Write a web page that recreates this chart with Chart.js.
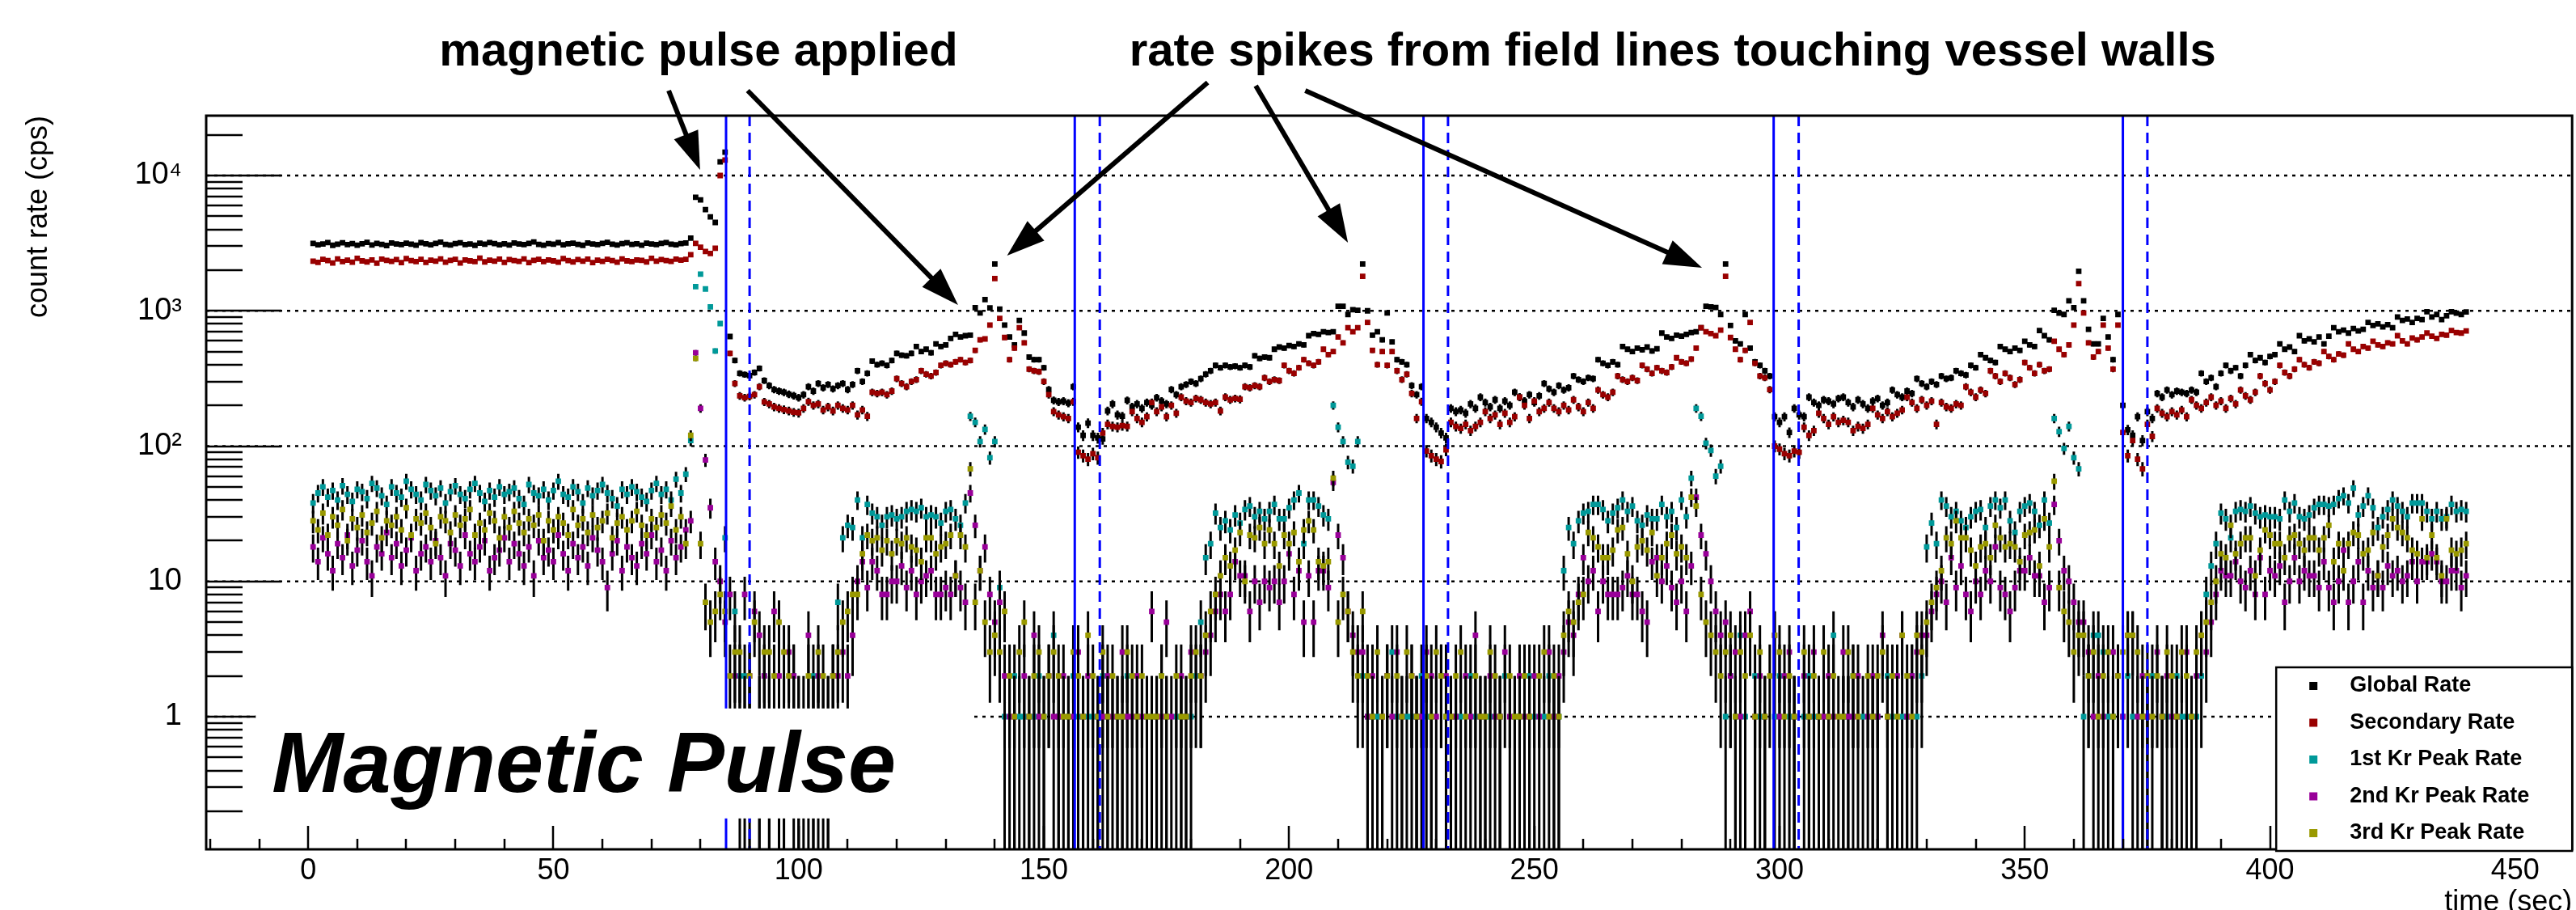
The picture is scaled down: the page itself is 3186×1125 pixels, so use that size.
<!DOCTYPE html>
<html>
<head>
<meta charset="utf-8">
<script src="https://cdn.jsdelivr.net/npm/chart.js@4/dist/chart.umd.min.js"></script>
<style>
  html, body { margin: 0; padding: 0; background: #fff; }
  canvas { display: block; }
</style>
</head>
<body>
<canvas id="rateChart" width="3186" height="1125"></canvas>
<script>
// one bin per second, first bin at t = 1 s
const firstSecond = 1;

const globalRate = [
  3150, 3080, 3120, 3200, 3050, 3110, 3180, 3090, 3140, 3060,
  3130, 3210, 3070, 3150, 3100, 3040, 3170, 3120, 3090, 3160,
  3110, 3060, 3190, 3130, 3080, 3150, 3220, 3100, 3070, 3140,
  3180, 3090, 3120, 3050, 3160, 3110, 3200, 3140, 3080, 3130,
  3070, 3170, 3120, 3090, 3150, 3230, 3100, 3060, 3140, 3110,
  3190, 3080, 3130, 3160, 3100, 3050, 3170, 3120, 3090, 3150,
  3210, 3110, 3070, 3140, 3180, 3100, 3130, 3060, 3160, 3120,
  3090, 3150, 3200, 3110, 3080, 3140, 3170, 3450, 6900, 6600,
  5600, 4950, 4500, 12600, 14900, 646, 430, 345, 338, 332,
  350, 375, 305, 280, 262, 255, 250, 242, 236, 228,
  240, 275, 255, 290, 270, 285, 265, 280, 290, 262,
  285, 360, 300, 345, 425, 400, 410, 395, 430, 485,
  470, 465, 485, 545, 500, 520, 490, 570, 545, 560,
  625, 670, 640, 655, 660, 1055, 965, 1210, 1050, 2220,
  1030, 785, 640, 560, 850, 685, 455, 435, 435, 380,
  262, 218, 212, 215, 208, 275, 138, 120, 148, 120,
  115, 113, 182, 205, 170, 166, 218, 195, 205, 190,
  210, 200, 228, 215, 205, 262, 240, 275, 285, 300,
  290, 315, 340, 360, 395, 380, 395, 385, 390, 380,
  395, 385, 465, 445, 455, 450, 520, 540, 530, 555,
  545, 570, 560, 655, 680, 670, 700, 690, 700, 1080,
  1080, 940, 1020, 1010, 2220, 1000, 660, 700, 610, 965,
  590, 435, 420, 400, 280, 240, 275, 160, 150, 138,
  125, 115, 190, 180, 185, 175, 205, 190, 230, 210,
  195, 220, 190, 215, 200, 250, 230, 215, 240, 210,
  235, 290, 265, 250, 280, 260, 270, 330, 310, 300,
  320, 315, 435, 410, 395, 420, 400, 545, 520, 500,
  530, 515, 540, 505, 525, 685, 640, 625, 660, 650,
  670, 690, 700, 750, 1080, 1070, 1060, 940, 2220, 780,
  600, 570, 940, 530, 420, 395, 360, 330, 165, 150,
  165, 126, 190, 170, 165, 230, 210, 200, 220, 215,
  205, 225, 230, 210, 195, 220, 205, 190, 215, 225,
  200, 210, 260, 240, 230, 255, 245, 315, 290, 275,
  300, 285, 330, 315, 320, 360, 345, 335, 395, 380,
  475, 450, 430, 415, 545, 520, 500, 530, 510, 595,
  560, 545, 715, 655, 610, 1010, 960, 940, 1185, 1055,
  1960, 1185, 730, 570, 570, 880, 640, 435, 940, 200,
  132, 120, 165, 110, 180, 160, 245, 230, 260, 240,
  255, 250, 245, 260, 250, 345, 300, 320, 275, 345,
  395, 360, 380, 330, 395, 475, 430, 450, 415, 460,
  475, 570, 520, 540, 500, 655, 600, 620, 590, 640,
  570, 650, 750, 700, 720, 685, 740, 710, 730, 820,
  780, 800, 760, 790, 750, 900, 850, 870, 820, 880,
  860, 985, 900, 940, 860, 920, 985, 960, 940, 980
];

const secondaryRate = [
  2330, 2280, 2400, 2350, 2260, 2420, 2310, 2370, 2290, 2440,
  2340, 2300, 2380, 2250, 2410, 2360, 2320, 2390, 2270, 2430,
  2350, 2310, 2400, 2280, 2370, 2330, 2420, 2290, 2360, 2400,
  2260, 2380, 2340, 2310, 2450, 2300, 2370, 2330, 2410, 2280,
  2390, 2350, 2320, 2420, 2270, 2360, 2400, 2310, 2380, 2340,
  2290, 2430, 2350, 2300, 2390, 2330, 2410, 2270, 2370, 2320,
  2400, 2350, 2290, 2420, 2340, 2310, 2380, 2360, 2300, 2440,
  2330, 2390, 2350, 2320, 2410, 2370, 2400, 2600, 3150, 2950,
  2750, 2650, 2900, 10000, 13000, 484, 290, 235, 228, 233,
  240, 275, 212, 205, 195, 190, 186, 182, 178, 176,
  190, 213, 200, 205, 185, 195, 182, 200, 190, 185,
  200, 170, 185, 166, 250, 245, 250, 240, 255, 315,
  290, 275, 300, 310, 360, 340, 330, 350, 395, 410,
  400, 420, 435, 415, 430, 510, 610, 620, 785, 1730,
  880, 635, 435, 530, 750, 580, 370, 360, 355, 300,
  240, 180, 170, 165, 160, 213, 90, 85, 80, 88,
  82, 125, 145, 140, 138, 142, 140, 180, 160, 150,
  165, 210, 180, 195, 165, 200, 175, 230, 215, 210,
  225, 220, 210, 205, 210, 182, 230, 220, 225, 222,
  275, 270, 280, 275, 320, 300, 310, 305, 395, 360,
  345, 380, 435, 410, 395, 420, 520, 475, 500, 640,
  580, 750, 700, 750, 1800, 820, 510, 400, 500, 395,
  500, 360, 310, 340, 245, 160, 213, 92, 85, 80,
  77, 94, 150, 140, 135, 145, 130, 140, 150, 180,
  160, 170, 145, 175, 150, 165, 230, 200, 160, 215,
  180, 190, 210, 190, 180, 200, 185, 220, 195, 180,
  210, 190, 260, 240, 230, 250, 330, 310, 300, 320,
  305, 395, 370, 345, 380, 360, 350, 385, 450, 420,
  410, 440, 530, 750, 700, 680, 655, 720, 1800, 635,
  520, 435, 510, 820, 410, 330, 320, 262, 100, 95,
  88, 85, 92, 90, 138, 120, 130, 175, 160, 145,
  165, 150, 155, 150, 130, 140, 135, 145, 190, 170,
  160, 180, 165, 175, 185, 230, 210, 190, 220, 200,
  215, 145, 210, 195, 190, 205, 200, 275, 250, 230,
  260, 245, 360, 330, 300, 345, 320, 285, 310, 415,
  380, 345, 400, 360, 370, 595, 520, 475, 560, 785,
  1590, 965, 580, 455, 500, 785, 530, 370, 785, 126,
  85, 110, 80, 68, 145, 118, 190, 175, 165, 180,
  170, 185, 165, 220, 200, 190, 210, 230, 200, 215,
  190, 225, 205, 260, 235, 220, 250, 330, 290, 260,
  300, 395, 350, 330, 370, 435, 400, 380, 420, 410,
  500, 460, 435, 480, 470, 570, 520, 500, 545, 530,
  595, 560, 545, 580, 570, 655, 600, 570, 630, 610,
  640, 685, 650, 625, 670, 660, 715, 690, 685, 710
];

const kr1Rate = [
  38, 45, 50, 42, 47, 40, 51, 44, 39, 48,
  46, 41, 53, 49, 43, 37, 50, 45, 42, 55,
  48, 44, 40, 52, 47, 43, 49, 38, 46, 51,
  44, 41, 48, 53, 45, 39, 47, 42, 50, 44,
  46, 49, 41, 37, 52, 45, 43, 48, 40, 47,
  55, 44, 42, 50, 46, 38, 49, 43, 47, 52,
  45, 41, 36, 48, 44, 50, 46, 42, 39, 47,
  53, 44, 48, 40, 57, 45, 62, 110, 1510, 1870,
  1450, 1070, 505, 805, 21, 0, 6, 2, 2, 1,
  0, 1, 2, 1, 0, 1, 1, 0, 2, 1,
  0, 1, 2, 1, 1, 0, 2, 7, 21, 26,
  25, 40, 21, 37, 32, 30, 26, 30, 31, 29,
  30, 33, 34, 33, 35, 30, 31, 30, 27, 33,
  34, 29, 26, 38, 166, 150, 108, 133, 82, 108,
  9, 1, 0, 2, 1, 1, 0, 1, 2, 1,
  0, 4, 1, 0, 1, 2, 1, 0, 1, 1,
  0, 2, 1, 0, 1, 1, 2, 0, 1, 0,
  1, 1, 0, 2, 1, 0, 1, 1, 0, 1,
  2, 5, 15, 19, 32, 25, 28, 24, 31, 27,
  34, 36, 30, 33, 29, 33, 37, 29, 29, 35,
  40, 45, 19, 40, 40, 36, 31, 29, 200, 138,
  108, 76, 71, 108, 2, 1, 1, 1, 0, 2,
  3, 1, 0, 1, 1, 1, 2, 1, 1, 0,
  2, 1, 0, 1, 1, 0, 2, 1, 0, 1,
  1, 0, 1, 2, 0, 1, 1, 0, 2, 1,
  0, 1, 2, 1, 1, 12, 25, 19, 28, 32,
  33, 37, 37, 34, 28, 32, 35, 40, 33, 36,
  28, 26, 31, 29, 29, 37, 30, 33, 25, 40,
  30, 58, 190, 166, 105, 93, 60, 71, 1, 2,
  1, 4, 1, 0, 2, 1, 1, 0, 1, 2,
  0, 1, 1, 0, 1, 2, 1, 1, 0, 1,
  4, 0, 1, 1, 2, 0, 1, 0, 1, 1,
  0, 2, 1, 0, 1, 1, 2, 1, 2, 18,
  27, 19, 40, 36, 30, 33, 28, 25, 30, 33,
  34, 25, 36, 40, 35, 40, 28, 23, 33, 36,
  38, 33, 26, 40, 27, 160, 128, 96, 140, 82,
  68, 1, 2, 4, 4, 3, 1, 1, 0, 1,
  2, 1, 0, 1, 1, 2, 0, 1, 1, 0,
  2, 1, 1, 0, 1, 2, 8, 13, 19, 32,
  29, 21, 33, 34, 33, 36, 32, 30, 31, 30,
  30, 29, 40, 33, 38, 30, 29, 31, 35, 37,
  37, 36, 37, 41, 43, 38, 49, 31, 36, 43,
  35, 25, 30, 34, 40, 36, 33, 30, 38, 38,
  38, 33, 29, 33, 29, 30, 37, 33, 34, 33
];

const kr2Rate = [
  18, 14, 21, 16, 12, 19, 15, 22, 13, 17,
  20, 14, 11, 18, 16, 23, 15, 19, 13, 17,
  21, 12, 16, 18, 14, 20, 15, 11, 19, 17,
  13, 22, 16, 14, 18, 20, 12, 15, 17, 21,
  14, 19, 16, 13, 18, 11, 20, 15, 17, 14,
  22, 16, 12, 19, 15, 18, 13, 21, 17, 14,
  9, 16, 20, 12, 18, 15, 13, 19, 16, 22,
  14, 17, 12, 20, 15, 18, 24, 28, 490, 190,
  79, 35, 14, 10, 5, 8, 2, 1, 8, 2,
  6, 4, 2, 1, 6, 2, 1, 3, 2, 1,
  0, 4, 1, 2, 0, 1, 2, 2, 3, 2,
  4, 10, 14, 9, 14, 12, 8, 8, 10, 10,
  13, 9, 12, 8, 10, 11, 12, 8, 8, 9,
  8, 11, 9, 7, 45, 26, 12, 18, 8, 5,
  7, 2, 1, 1, 0, 2, 1, 4, 1, 0,
  2, 1, 1, 2, 0, 1, 3, 1, 2, 0,
  1, 1, 2, 1, 0, 3, 1, 1, 2, 1,
  0, 6, 1, 1, 5, 1, 0, 2, 1, 3,
  0, 2, 3, 4, 6, 8, 6, 8, 14, 11,
  11, 6, 10, 7, 10, 9, 10, 7, 10, 16,
  8, 12, 5, 11, 5, 12, 12, 9, 54, 22,
  15, 6, 4, 3, 3, 1, 2, 0, 1, 2,
  1, 3, 1, 0, 2, 1, 1, 3, 2, 1,
  0, 2, 1, 1, 0, 2, 1, 4, 1, 0,
  2, 1, 1, 3, 1, 0, 2, 1, 1, 2,
  1, 0, 3, 1, 2, 3, 5, 4, 8, 15,
  10, 12, 6, 10, 8, 8, 8, 9, 11, 8,
  8, 6, 5, 14, 15, 10, 13, 9, 7, 10,
  6, 13, 42, 22, 16, 10, 6, 4, 5, 2,
  3, 1, 4, 6, 1, 2, 1, 0, 4, 1,
  2, 3, 1, 0, 2, 1, 3, 1, 1, 2,
  1, 0, 3, 1, 1, 2, 0, 1, 2, 1,
  4, 1, 0, 2, 4, 1, 2, 3, 4, 4,
  6, 8, 10, 7, 15, 9, 13, 8, 6, 10,
  8, 12, 10, 18, 9, 8, 6, 9, 12, 12,
  15, 11, 11, 7, 9, 37, 20, 12, 10, 7,
  5, 5, 3, 1, 2, 1, 0, 3, 2, 1,
  4, 4, 1, 2, 1, 0, 3, 1, 2, 1,
  1, 0, 3, 1, 2, 4, 3, 5, 8, 12,
  11, 11, 14, 10, 9, 12, 8, 15, 8, 12,
  11, 13, 7, 10, 15, 10, 12, 11, 11, 9,
  14, 9, 7, 10, 17, 7, 10, 14, 7, 12,
  9, 11, 9, 13, 11, 12, 10, 11, 14, 10,
  14, 14, 16, 14, 10, 10, 12, 12, 9, 11
];

const kr3Rate = [
  28, 24, 32, 22, 30, 26, 34, 20, 29, 25,
  31, 23, 27, 33, 21, 28, 26, 30, 24, 35,
  22, 29, 27, 32, 25, 19, 30, 28, 23, 31,
  26, 29, 34, 22, 27, 24, 32, 28, 21, 30,
  25, 33, 27, 23, 29, 26, 31, 20, 28, 24,
  30, 27, 22, 34, 26, 29, 23, 31, 25, 28,
  32, 21, 27, 30, 24, 28, 33, 26, 22, 29,
  25, 31, 27, 36, 24, 30, 19, 120, 445, 19,
  7, 5, 6, 8, 6, 2, 3, 3, 1, 2,
  5, 1, 3, 3, 2, 5, 3, 2, 1, 0,
  1, 2, 1, 3, 2, 1, 2, 3, 5, 6,
  8, 8, 16, 22, 20, 21, 17, 20, 16, 20,
  19, 21, 18, 17, 14, 21, 21, 16, 18, 19,
  22, 11, 22, 18, 68, 7, 12, 5, 3, 4,
  3, 6, 2, 1, 3, 5, 1, 2, 3, 1,
  2, 3, 2, 1, 1, 3, 2, 1, 4, 2,
  1, 3, 1, 2, 1, 1, 3, 2, 1, 2,
  1, 1, 1, 2, 1, 0, 2, 1, 1, 2,
  3, 2, 4, 6, 8, 11, 15, 13, 17, 23,
  10, 22, 21, 25, 19, 24, 19, 13, 22, 19,
  23, 14, 24, 28, 24, 14, 13, 14, 58, 5,
  8, 6, 3, 2, 6, 2, 1, 3, 1, 2,
  0, 2, 1, 3, 2, 1, 0, 2, 1, 3,
  2, 1, 1, 2, 3, 1, 0, 2, 1, 1,
  3, 2, 1, 0, 2, 1, 1, 2, 1, 0,
  2, 3, 1, 2, 1, 4, 6, 5, 7, 8,
  23, 21, 18, 15, 15, 17, 24, 25, 16, 10,
  18, 20, 17, 23, 11, 15, 19, 22, 16, 18,
  15, 42, 36, 8, 5, 4, 3, 2, 3, 4,
  1, 3, 2, 4, 1, 3, 1, 2, 4, 3,
  1, 2, 1, 0, 3, 1, 2, 1, 3, 1,
  2, 1, 1, 3, 2, 1, 0, 2, 1, 2,
  3, 1, 2, 1, 4, 2, 1, 4, 3, 5,
  7, 9, 12, 21, 19, 28, 21, 21, 17, 13,
  18, 19, 15, 26, 21, 18, 19, 18, 14, 22,
  23, 24, 13, 29, 18, 55, 9, 6, 5, 3,
  4, 4, 2, 3, 1, 2, 3, 1, 2, 3,
  4, 4, 3, 1, 2, 1, 2, 1, 3, 2,
  1, 3, 2, 1, 3, 4, 5, 7, 10, 16,
  15, 26, 16, 19, 21, 21, 11, 17, 24, 22,
  19, 19, 15, 21, 22, 19, 17, 21, 21, 17,
  21, 26, 14, 19, 12, 19, 23, 22, 16, 17,
  23, 11, 18, 22, 29, 25, 23, 21, 17, 16,
  29, 15, 22, 15, 11, 29, 17, 16, 17, 19
];

const seriesNames = ['Global Rate', 'Secondary Rate', '1st Kr Peak Rate', '2nd Kr Peak Rate', '3rd Kr Peak Rate'];
const seriesColors = ['#000000', '#990000', '#009999', '#990099', '#999900'];

// pulse start (solid) and end (dashed) markers, seconds
const pulseStarts = [85.2, 156.3, 227.4, 298.8, 370.0];
const pulseEnds = [90.0, 161.4, 232.4, 303.9, 375.0];

const xTickValues = [0, 50, 100, 150, 200, 250, 300, 350, 400, 450];
const yTickValues = [1, 10, 100, 1000, 10000];
const yTickLabels = ['1', '10', '10\u00B2', '10\u00B3', '10\u2074'];

// annotations, in data coordinates (seconds, cps)
const arrowNotes = [
  { from: [73.5, 42450], to: [79.9, 11020] },
  { from: [89.6, 42450], to: [132.5, 1105] },
  { from: [183.4, 48700], to: [142.5, 2560] },
  { from: [193.2, 46100], to: [212.0, 3190] },
  { from: [203.3, 42450], to: [284.2, 2080] }
];
const textNotes = [
  { text: 'magnetic pulse applied', at: [79.6, 65000] },
  { text: 'rate spikes from field lines touching vessel walls', at: [278.2, 65000] }
];
const pulseLabel = { text: 'Magnetic Pulse', at: [-7.4, 0.278], box: [-10.7, 134.9, 1.15, 0.177] };

const family = '"Liberation Sans", Arial, Helvetica, sans-serif';

const seriesValues = [globalRate, secondaryRate, kr1Rate, kr2Rate, kr3Rate];
const datasets = seriesValues.map((values, i) => ({
  label: seriesNames[i],
  data: values.map((v, k) => ({ x: firstSecond + k, y: v > 0 ? v : null })),
  showLine: false,
  pointStyle: 'rect',
  pointRadius: 4.8,
  pointBorderWidth: 0,
  pointHoverRadius: 4.8,
  backgroundColor: seriesColors[i],
  borderColor: seriesColors[i],
  order: seriesValues.length - i
}));

function drawArrow(ctx, x0, y0, x1, y1) {
  const len = Math.hypot(x1 - x0, y1 - y0);
  const ux = (x1 - x0) / len, uy = (y1 - y0) / len;
  const head = 47, half = 16;
  const bx = x1 - ux * head, by = y1 - uy * head;
  ctx.beginPath();
  ctx.moveTo(x0, y0);
  ctx.lineTo(bx + ux * 4, by + uy * 4);
  ctx.stroke();
  ctx.beginPath();
  ctx.moveTo(x1, y1);
  ctx.lineTo(bx - uy * half, by + ux * half);
  ctx.lineTo(bx + uy * half, by - ux * half);
  ctx.closePath();
  ctx.fill();
}

const rootStyle = {
  id: 'rootStyle',
  beforeDatasetsDraw(chart) {
    const { ctx, chartArea: a, scales: { y } } = chart;
    ctx.save();
    ctx.strokeStyle = '#000';
    ctx.lineWidth = 2.5;
    ctx.setLineDash([4, 6]);
    yTickValues.forEach(v => {
      const py = y.getPixelForValue(v);
      ctx.beginPath();
      ctx.moveTo(a.left, py);
      ctx.lineTo(a.right, py);
      ctx.stroke();
    });
    ctx.restore();
  },
  // Poisson error bars (1 s bins), drawn just under each series' markers
  beforeDatasetDraw(chart, args) {
    const { ctx, chartArea: a, scales: { x, y } } = chart;
    const ds = chart.data.datasets[args.index];
    ctx.save();
    ctx.beginPath();
    ctx.rect(a.left, a.top, a.width, a.height);
    ctx.clip();
    ctx.strokeStyle = '#000';
    ctx.lineWidth = 3;
    ctx.beginPath();
    ds.data.forEach(p => {
      if (!p.y) return;
      const err = Math.sqrt(p.y);
      const px = x.getPixelForValue(p.x);
      const lo = p.y - err;
      ctx.moveTo(px, y.getPixelForValue(p.y + err));
      ctx.lineTo(px, lo > 0 ? y.getPixelForValue(lo) : a.bottom + 2);
    });
    ctx.stroke();
    ctx.restore();
  },
  afterDatasetsDraw(chart) {
    const { ctx, chartArea: a, scales: { x, y } } = chart;
    ctx.save();

    // pulse lines
    ctx.strokeStyle = '#0000ff';
    ctx.lineWidth = 3;
    pulseStarts.forEach(t => {
      const px = x.getPixelForValue(t);
      ctx.beginPath(); ctx.moveTo(px, a.top); ctx.lineTo(px, a.bottom); ctx.stroke();
    });
    ctx.setLineDash([13, 8]);
    pulseEnds.forEach(t => {
      const px = x.getPixelForValue(t);
      ctx.beginPath(); ctx.moveTo(px, a.top); ctx.lineTo(px, a.bottom); ctx.stroke();
    });
    ctx.setLineDash([]);

    // frame and ticks (inside the frame, ROOT style)
    ctx.strokeStyle = '#000';
    ctx.lineWidth = 3;
    ctx.strokeRect(a.left, a.top, a.width, a.height);
    ctx.lineWidth = 2.5;
    ctx.beginPath();
    for (let d = -1; d <= 4; d++) {
      for (let k = 1; k <= 9; k++) {
        const v = k * Math.pow(10, d);
        if (v < y.min || v > y.max) continue;
        const py = Math.round(y.getPixelForValue(v));
        ctx.moveTo(a.left, py);
        ctx.lineTo(a.left + (k === 1 ? 93 : 45), py);
      }
    }
    for (let t = -20; t <= 460; t += 10) {
      const px = Math.round(x.getPixelForValue(t));
      if (px < a.left || px > a.right) continue;
      ctx.moveTo(px, a.bottom);
      ctx.lineTo(px, a.bottom - (t % 50 === 0 ? 29 : 13));
    }
    ctx.stroke();

    // "Magnetic Pulse" label on a white pave (covers lines and data behind it)
    const [bx0, bx1, byTop, byBot] = pulseLabel.box;
    const px0 = x.getPixelForValue(bx0), px1 = x.getPixelForValue(bx1);
    const pyT = y.getPixelForValue(byTop), pyB = y.getPixelForValue(byBot);
    ctx.fillStyle = '#fff';
    ctx.fillRect(px0, pyT, px1 - px0, pyB - pyT);
    ctx.fillStyle = '#000';
    ctx.font = `italic bold 106px ${family}`;
    ctx.textAlign = 'left';
    ctx.textBaseline = 'alphabetic';
    ctx.fillText(pulseLabel.text, x.getPixelForValue(pulseLabel.at[0]), y.getPixelForValue(pulseLabel.at[1]));

    // legend
    const lgLeft = a.right - 366, lgTop = a.bottom - 225;
    ctx.fillStyle = '#fff';
    ctx.fillRect(lgLeft, lgTop, a.right - lgLeft, a.bottom + 2 - lgTop);
    ctx.strokeStyle = '#000';
    ctx.lineWidth = 2.5;
    ctx.strokeRect(lgLeft, lgTop, a.right - lgLeft, a.bottom + 2 - lgTop);
    ctx.font = `bold 27px ${family}`;
    ctx.textBaseline = 'middle';
    seriesNames.forEach((name, i) => {
      const cy = lgTop + 23 + i * 45.5;
      ctx.fillStyle = seriesColors[i];
      ctx.fillRect(lgLeft + 41, cy - 5, 10, 10);
      ctx.fillStyle = '#000';
      ctx.fillText(name, lgLeft + 91, cy);
    });

    // arrows and headline notes
    ctx.strokeStyle = '#000';
    ctx.fillStyle = '#000';
    ctx.lineWidth = 6;
    arrowNotes.forEach(n => {
      drawArrow(ctx,
        x.getPixelForValue(n.from[0]), y.getPixelForValue(n.from[1]),
        x.getPixelForValue(n.to[0]), y.getPixelForValue(n.to[1]));
    });
    ctx.font = `bold 58px ${family}`;
    ctx.textAlign = 'center';
    ctx.textBaseline = 'alphabetic';
    textNotes.forEach(n => {
      ctx.fillText(n.text, x.getPixelForValue(n.at[0]), y.getPixelForValue(n.at[1]));
    });
    ctx.restore();
  }
};

new Chart(document.getElementById('rateChart'), {
  type: 'scatter',
  data: { datasets },
  options: {
    responsive: false,
    animation: false,
    devicePixelRatio: 1,
    events: [],
    layout: { padding: { top: 143, right: 3, bottom: 0, left: 0 } },
    plugins: { legend: { display: false }, tooltip: { enabled: false } },
    scales: {
      x: {
        type: 'linear',
        min: -20.8,
        max: 461.6,
        grid: { display: false, drawTicks: false },
        border: { display: false },
        afterBuildTicks: s => { s.ticks = xTickValues.map(v => ({ value: v })); },
        afterFit: s => { s.height = 75; },
        ticks: { color: '#000', font: { family, size: 36 }, padding: 5, maxRotation: 0, autoSkip: false },
        title: {
          display: true, text: 'time (sec)', align: 'end', color: '#000',
          font: { family, size: 36, lineHeight: 0.5 }, padding: 0
        }
      },
      y: {
        type: 'logarithmic',
        min: 0.1046,
        max: 27700,
        grid: { display: false, drawTicks: false },
        border: { display: false },
        afterBuildTicks: s => { s.ticks = yTickValues.map(v => ({ value: v })); },
        afterFit: s => { s.width = 255; },
        ticks: {
          color: '#000', font: { family, size: 38 }, padding: 30, autoSkip: false,
          callback: (value, index) => yTickLabels[index]
        },
        title: {
          display: true, text: 'count rate (cps)', align: 'end', color: '#000',
          font: { family, size: 36, lineHeight: 1 }, padding: { top: 30, bottom: 0 }
        }
      }
    }
  },
  plugins: [rootStyle]
});
</script>
</body>
</html>
